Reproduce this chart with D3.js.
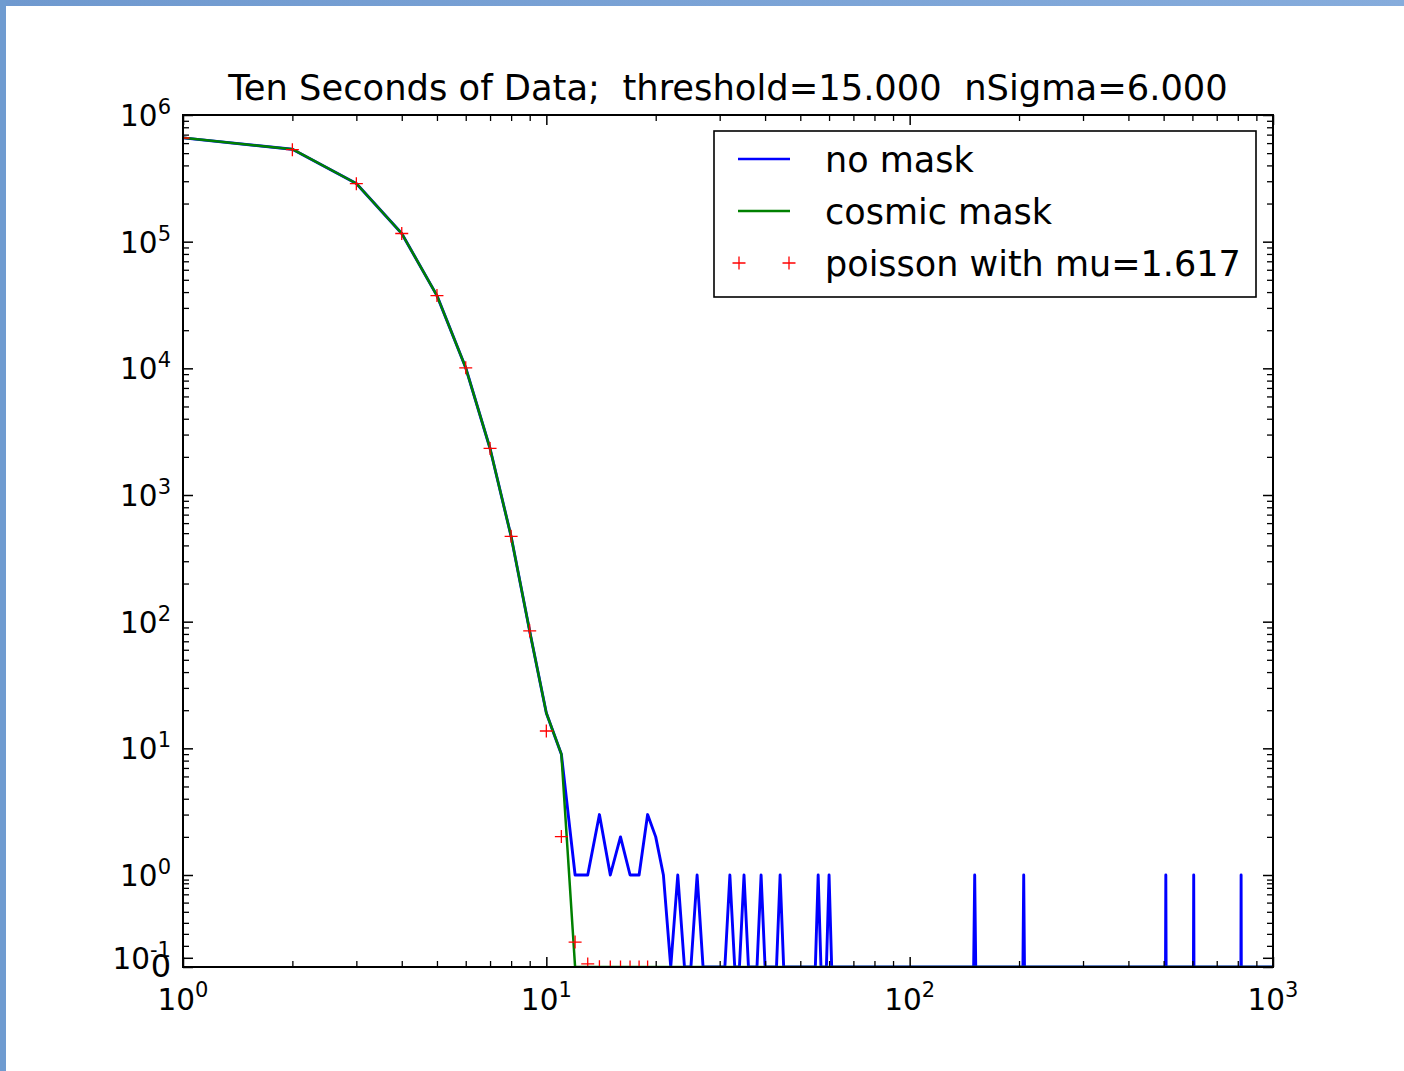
<!DOCTYPE html>
<html><head><meta charset="utf-8">
<script src="https://cdn.jsdelivr.net/npm/d3@7"></script>
<style>
html,body{margin:0;padding:0;background:#fff;}
svg{display:block;font-family:"DejaVu Sans",sans-serif;}
text{white-space:pre;}
</style></head><body>
<svg id="chart" width="1404" height="1071"></svg>
<script>
// ---------------- data ----------------
const titleText = "Ten Seconds of Data;  threshold=15.000  nSigma=6.000";
const seriesNames = ["no mask", "cosmic mask", "poisson with mu=1.617"];

// histogram bins 1..27 read directly
const lowBins     = [1,2,3,4,5,6,7,8,9,10,11,12,13,14,15,16,17,18,19,20,21,22,23,24,25,26,27];
const noMaskLow   = [660000,537000,288000,116000,37500,10100,2330,470,84,19,9,1,1,3,1,2,1,1,3,2,1,0,1,0,0,1,0];
const cosmicLow   = [660000,537000,288000,116000,37500,10100,2330,470,84,19,9,0,0,0,0,0,0,0,0,0,0,0,0,0,0,0,0];
// isolated single-count bins of the unmasked histogram beyond bin 27
const noMaskSpikeBins   = [32,35,39,44,56,60,151,206,507,605,817];
const noMaskSpikeCounts = [1,1,1,1,1,1,1,1,1,1,1];
const lastBin = 1000;

// poisson expectation markers
const poissonBins   = [1,2,3,4,5,6,7,8,9,10,11,12,13,14,15,16,17,18,19];
const poissonValues = [658000,532000,287000,116000,37500,10100,2330,472,84.7,13.7,2.01,0.271,0.0338,0.0039,0.00042,0.000043,0.0000041,0.00000037,0.00000003];

// ticks
const xMajorTicks  = [1,10,100,1000];
const xMajorExps   = ["0","1","2","3"];
const yMajorTicks  = [0,0.1,1,10,100,1000,10000,100000,1000000];
const yMajorBase   = ["0","10","10","10","10","10","10","10","10"];
const yMajorExps   = ["","-1","0","1","2","3","4","5","6"];
const yLinearMinor = [0.23,0.36,0.48,0.60,0.70,0.79,0.86,0.91,0.95];

// ---------------- layout ----------------
const W = 1404, H = 1071;
const plot = {left:183, right:1273, top:115, bottom:967};
const linearHeight = 92;   // pixel height of the linear [0,1] part of the symlog axis

const svg = d3.select("#chart");

// window frame (blue borders)
const defs = svg.append("defs");
const grad = defs.append("linearGradient").attr("id","topband").attr("x1",0).attr("x2",1).attr("y1",0).attr("y2",0);
grad.append("stop").attr("offset","0%").attr("stop-color","#6f99cf");
grad.append("stop").attr("offset","100%").attr("stop-color","#86acdc");
svg.append("rect").attr("x",0).attr("y",0).attr("width",W).attr("height",6).attr("fill","url(#topband)");
svg.append("rect").attr("x",0).attr("y",0).attr("width",6).attr("height",H).attr("fill","#6f9bd0");

defs.append("clipPath").attr("id","plotclip").append("rect")
  .attr("x",plot.left).attr("y",plot.top)
  .attr("width",plot.right-plot.left).attr("height",plot.bottom-plot.top);

// ---------------- scales ----------------
const x = d3.scaleLog().domain([1,1000]).range([plot.left, plot.right]);
const yLog = d3.scaleLog().domain([1,1e6]).range([plot.bottom-linearHeight, plot.top]);
const yLin = d3.scaleLinear().domain([0,1]).range([plot.bottom, plot.bottom-linearHeight]);
function y(v){ return v >= 1 ? yLog(v) : yLin(Math.max(0,v)); }
y.copy = () => y;
y.range = () => [plot.bottom, plot.top];
y.domain = () => [0, 1e6];

// ---------------- series ----------------
function buildSeries(lowVals, spikeBins, spikeCounts){
  const out = [];
  for (let b = 1; b <= lastBin; b++){
    let v = 0;
    const li = lowBins.indexOf(b);
    if (li >= 0) v = lowVals[li];
    else {
      const si = spikeBins.indexOf(b);
      if (si >= 0) v = spikeCounts[si];
    }
    out.push([b, v]);
  }
  return out;
}
const noMaskSeries = buildSeries(noMaskLow, noMaskSpikeBins, noMaskSpikeCounts);
const cosmicSeries = buildSeries(cosmicLow, [], []);

const line = d3.line().x(d => x(d[0])).y(d => y(d[1]));
const gData = svg.append("g").attr("clip-path","url(#plotclip)");
gData.append("path").datum(noMaskSeries).attr("d",line)
  .attr("fill","none").attr("stroke","#0000ff").attr("stroke-width",2.9).attr("stroke-linejoin","round");
gData.append("path").datum(cosmicSeries).attr("d",line)
  .attr("fill","none").attr("stroke","#008000").attr("stroke-width",2.5).attr("stroke-linejoin","round");

const plusPath = "M-6.5,0H6.5M0,-6.5V6.5";
gData.selectAll(".pm").data(poissonBins.map((b,i)=>[b,poissonValues[i]])).enter()
  .append("path").attr("class","pm")
  .attr("transform", d => `translate(${x(d[0])},${y(d[1])})`)
  .attr("d", plusPath).attr("fill","none").attr("stroke","#ff0000").attr("stroke-width",1.3);

// ---------------- axes ----------------
function xMinorTicks(){
  const t = [];
  for (let e = 0; e < 3; e++) for (let m = 2; m <= 9; m++) t.push(m*Math.pow(10,e));
  return t;
}
function yMinorTicks(){
  const t = yLinearMinor.slice();
  for (let e = 0; e < 6; e++) for (let m = 2; m <= 9; m++) t.push(m*Math.pow(10,e));
  return t;
}
function styleAxis(g, w){
  g.select(".domain").remove();
  g.selectAll(".tick line").attr("stroke","#000").attr("stroke-width",w);
  g.selectAll(".tick text").remove();
}
const axes = svg.append("g");
[[d3.axisBottom, plot.bottom],[d3.axisTop, plot.top]].forEach(([ax, yy]) => {
  axes.append("g").attr("transform",`translate(0,${yy})`)
    .call(ax(x).tickValues(xMajorTicks).tickSize(-10).tickFormat("")).call(g=>styleAxis(g,1.5));
  axes.append("g").attr("transform",`translate(0,${yy})`)
    .call(ax(x).tickValues(xMinorTicks()).tickSize(-6).tickFormat("")).call(g=>styleAxis(g,1.3));
});
[[d3.axisLeft, plot.left],[d3.axisRight, plot.right]].forEach(([ax, xx]) => {
  axes.append("g").attr("transform",`translate(${xx},0)`)
    .call(ax(y).tickValues(yMajorTicks).tickSize(-10).tickFormat("")).call(g=>styleAxis(g,1.5));
  axes.append("g").attr("transform",`translate(${xx},0)`)
    .call(ax(y).tickValues(yMinorTicks()).tickSize(-6).tickFormat("")).call(g=>styleAxis(g,1.3));
});

// frame
svg.append("rect").attr("x",plot.left).attr("y",plot.top)
  .attr("width",plot.right-plot.left).attr("height",plot.bottom-plot.top)
  .attr("fill","none").attr("stroke","#000").attr("stroke-width",2);

// tick labels
const baseFs = 29.5, supFs = 21;
const xl = svg.append("g").attr("fill","#000");
xMajorTicks.forEach((v,i) => {
  const t = xl.append("text").attr("x", x(v)).attr("y", 1010).attr("text-anchor","middle");
  t.append("tspan").attr("font-size",baseFs).text("10");
  t.append("tspan").attr("font-size",supFs).attr("dy",-13).text(xMajorExps[i]);
});
yMajorTicks.forEach((v,i) => {
  if (yMajorExps[i] === ""){
    xl.append("text").attr("x",171).attr("y", y(v)+10).attr("text-anchor","end")
      .attr("font-size",32).text(yMajorBase[i]);
  } else {
    const t = xl.append("text").attr("x",171).attr("y", y(v)+11).attr("text-anchor","end");
    t.append("tspan").attr("font-size",baseFs).text(yMajorBase[i]);
    t.append("tspan").attr("font-size",supFs).attr("dy",-12).text(yMajorExps[i]);
  }
});

// title
svg.append("text").attr("x",(plot.left+plot.right)/2).attr("y",99.5)
  .attr("text-anchor","middle").attr("font-size",35.3).attr("fill","#000")
  .attr("xml:space","preserve").text(titleText);

// ---------------- legend ----------------
const legend = svg.append("g");
legend.append("rect").attr("x",714).attr("y",131).attr("width",542).attr("height",166)
  .attr("fill","#fff").attr("stroke","#000").attr("stroke-width",1.6);
const legendItems = [
  {name: seriesNames[0], type:"line", color:"#0000ff"},
  {name: seriesNames[1], type:"line", color:"#008000"},
  {name: seriesNames[2], type:"marker", color:"#ff0000"}
];
legendItems.forEach((it,i) => {
  const cy = 159 + i*52;
  if (it.type === "line"){
    legend.append("line").attr("x1",738).attr("x2",790).attr("y1",cy).attr("y2",cy)
      .attr("stroke",it.color).attr("stroke-width",2.5);
  } else {
    [739,789].forEach(px => legend.append("path").attr("d",plusPath)
      .attr("transform",`translate(${px},${cy})`).attr("stroke",it.color).attr("stroke-width",1.3).attr("fill","none"));
  }
  legend.append("text").attr("x",825).attr("y",cy+12.5).attr("font-size",35).attr("fill","#000").text(it.name);
});
</script>
</body></html>
